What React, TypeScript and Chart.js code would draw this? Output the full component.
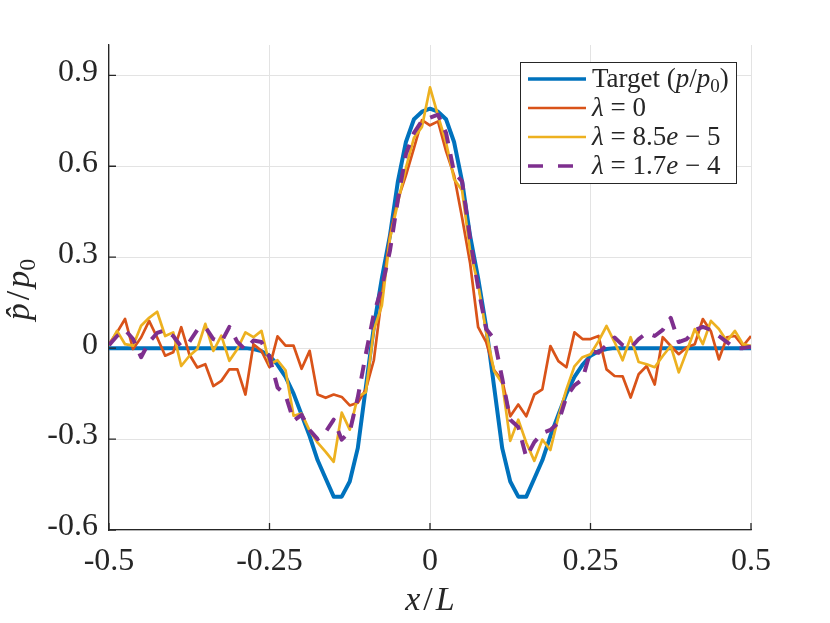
import { useEffect, useRef } from "react";
import { Chart, registerables } from "chart.js";

Chart.register(...registerables);

// sample positions x/L
const xs = [
  -0.5, -0.4875, -0.475, -0.4625, -0.45, -0.4375, -0.425, -0.4125, -0.4, -0.3875,
  -0.375, -0.3625, -0.35, -0.3375, -0.325, -0.3125, -0.3, -0.2875, -0.275, -0.2625,
  -0.25, -0.2375, -0.225, -0.2125, -0.2, -0.1875, -0.175, -0.1625, -0.15, -0.1375,
  -0.125, -0.1125, -0.1, -0.0875, -0.075, -0.0625, -0.05, -0.0375, -0.025, -0.0125,
  0,
  0.0125, 0.025, 0.0375, 0.05, 0.0625, 0.075, 0.0875, 0.1, 0.1125, 0.125,
  0.1375, 0.15, 0.1625, 0.175, 0.1875, 0.2, 0.2125, 0.225, 0.2375, 0.25,
  0.2625, 0.275, 0.2875, 0.3, 0.3125, 0.325, 0.3375, 0.35, 0.3625, 0.375,
  0.3875, 0.4, 0.4125, 0.425, 0.4375, 0.45, 0.4625, 0.475, 0.4875, 0.5,
];

const target = [
  0, 0, 0, 0, 0, 0, 0, 0, 0, 0, 0, 0, 0, 0, 0, 0, 0, 0,
  -0.003, -0.01, -0.025, -0.055, -0.095, -0.15, -0.22, -0.29, -0.37, -0.43,
  -0.49, -0.49, -0.44, -0.33, -0.13, 0.07, 0.23, 0.37, 0.55, 0.68, 0.755, 0.78,
  0.79,
  0.78, 0.755, 0.68, 0.55, 0.37, 0.23, 0.07, -0.13, -0.33, -0.44, -0.49, -0.49,
  -0.43, -0.37, -0.29, -0.22, -0.15, -0.095, -0.055, -0.025, -0.01, -0.003,
  0, 0, 0, 0, 0, 0, 0, 0, 0, 0, 0, 0, 0, 0, 0, 0, 0, 0,
];

const lambda0 = [
  0.013, 0.052, 0.096, -0.003, 0.035, 0.09, 0.035, -0.025, -0.014, 0.069,
  -0.02, -0.064, -0.053, -0.125, -0.108, -0.07, -0.07, -0.153, 0.013, -0.009,
  -0.063, 0.039, 0.008, 0.008, -0.068, -0.009, -0.153, -0.164, -0.153, -0.161,
  -0.189, -0.18, -0.136, -0.04, 0.17, 0.37, 0.49, 0.57, 0.66, 0.752,
  0.735,
  0.748, 0.65, 0.57, 0.43, 0.28, 0.069, 0.02, -0.073, -0.106, -0.225,
  -0.186, -0.225, -0.153, -0.136, 0.007, -0.043, -0.063, 0.052, 0.03, 0.03,
  0.04, -0.07, -0.092, -0.093, -0.163, -0.086, -0.059, -0.12, 0.036, 0.007,
  -0.02, 0.003, 0.013, 0.096, 0.056, -0.037, 0.036, 0.04, 0.007, 0.04,
];

const lambda85 = [
  0.008, 0.057, 0.013, 0.008, 0.074, 0.1, 0.12, 0.04, 0.052, -0.059,
  -0.026, -0.003, 0.08, -0.009, 0.041, -0.042, -0.003, 0.052, 0.036, 0.057,
  -0.053, -0.04, -0.073, -0.223, -0.216, -0.272, -0.312, -0.342, -0.375, -0.213,
  -0.269, -0.16, -0.146, 0.06, 0.14, 0.36, 0.48, 0.595, 0.694, 0.73,
  0.86,
  0.767, 0.678, 0.558, 0.52, 0.32, 0.21, 0.053, -0.076, -0.116, -0.306,
  -0.236, -0.312, -0.372, -0.302, -0.336, -0.226, -0.136, -0.06, -0.03, -0.02,
  0.023, 0.073, 0.02, -0.04, 0.036, -0.046, -0.053, -0.063, -0.026, 0.007,
  -0.08, -0.01, 0.063, 0.013, 0.09, 0.063, 0.023, 0.057, 0.013, 0.007,
];

const lambda17 = [
  0.01, 0.04, 0.06, 0.03, -0.03, 0.02, 0.05, 0.06, 0.04, 0.005,
  0.02, 0.06, 0.07, 0.03, 0.02, 0.07, 0.02, -0.005, 0.025, 0.02,
  -0.03, -0.13, -0.155, -0.24, -0.22, -0.27, -0.3, -0.276, -0.236, -0.302,
  -0.276, -0.163, -0.02, 0.113, 0.2, 0.32, 0.49, 0.64, 0.71, 0.75,
  0.76,
  0.77, 0.71, 0.58, 0.55, 0.36, 0.2, 0.063, 0.03, -0.1, -0.236,
  -0.26, -0.36, -0.31, -0.28, -0.27, -0.246, -0.16, -0.123, -0.103, -0.01,
  -0.015, 0.01, 0.035, 0.01, 0, 0.03, 0.05, 0.04, 0.06, 0.1,
  0.02, 0.03, 0.06, 0.07, 0.06, 0.04, 0.02, 0, 0, 0.005,
];

const xTicks = [-0.5, -0.25, 0, 0.25, 0.5];
const yTicks = [-0.6, -0.3, 0, 0.3, 0.6, 0.9];

const seriesLabels = ["Target (p/p0)", "λ = 0", "λ = 8.5e − 5", "λ = 1.7e − 4"];
const colors = ["#0072BD", "#D95319", "#EDB120", "#7E2F8E"];
const widths = [4, 2.7, 2.7, 4];
const dashes = [[], [], [], [14, 11]];

const FAMILY = "'Liberation Serif', serif";
const INK = "#262626";

type Seg = { t: string; it?: boolean; sub?: boolean; gap?: number };

// rich legend / axis label texts (math italic parts)
const legendText: Seg[][] = [
  [{ t: "Target (" }, { t: "p", it: true }, { t: "/" }, { t: "p", it: true }, { t: "0", sub: true }, { t: ")" }],
  [{ t: "λ", it: true }, { t: " = 0" }],
  [{ t: "λ", it: true }, { t: " = 8.5" }, { t: "e", it: true }, { t: " − 5" }],
  [{ t: "λ", it: true }, { t: " = 1.7" }, { t: "e", it: true }, { t: " − 4" }],
];
const xTitle: Seg[] = [{ t: "x", it: true }, { t: "/", gap: 3 }, { t: "L", it: true }];
const yTitle: Seg[] = [{ t: "p\u0302", it: true }, { t: "/", gap: 3 }, { t: "p", it: true }, { t: "0", sub: true }];

const drawRich = (
  ctx: CanvasRenderingContext2D,
  segs: Seg[],
  x: number,
  y: number,
  size: number,
  center: boolean
) => {
  const font = (s: Seg) =>
    `${s.it ? "italic " : ""}${s.sub ? Math.round(size * 0.7) : size}px ${FAMILY}`;
  const segW = (s: Seg) => {
    ctx.font = font(s);
    return ctx.measureText(s.t).width + 2 * (s.gap || 0);
  };
  const total = segs.reduce((a, s) => a + segW(s), 0);
  let cx = center ? x - total / 2 : x;
  ctx.textAlign = "left";
  ctx.textBaseline = "alphabetic";
  segs.forEach((s) => {
    const w = segW(s);
    ctx.font = font(s);
    ctx.fillText(s.t, cx + (s.gap || 0), s.sub ? y + size * 0.18 : y);
    cx += w;
  });
};

const decorPlugin = {
  id: "decor",
  afterDatasetsDraw(chart: any) {
    const { ctx, chartArea, scales } = chart;
    const { left, right, top, bottom } = chartArea;
    ctx.save();
    // inward tick marks
    ctx.strokeStyle = INK;
    ctx.lineWidth = 1.3;
    ctx.beginPath();
    xTicks.forEach((v) => {
      const px = scales.x.getPixelForValue(v);
      ctx.moveTo(px, bottom);
      ctx.lineTo(px, bottom - 7);
    });
    yTicks.forEach((v) => {
      const py = scales.y.getPixelForValue(v);
      ctx.moveTo(left, py);
      ctx.lineTo(left + 7, py);
    });
    ctx.stroke();

    // legend
    const bw = 216;
    const bh = 121;
    const bx = right - 15 - bw;
    const by = top + 17;
    ctx.fillStyle = "#ffffff";
    ctx.fillRect(bx, by, bw, bh);
    ctx.strokeStyle = INK;
    ctx.lineWidth = 1;
    ctx.strokeRect(bx + 0.5, by + 0.5, bw, bh);
    legendText.forEach((segs, i) => {
      const ry = by + 17 + i * 29;
      ctx.strokeStyle = colors[i];
      ctx.lineWidth = widths[i] === 4 ? 3.5 : 2.5;
      ctx.setLineDash(i === 3 ? [15, 15] : []);
      ctx.beginPath();
      ctx.moveTo(bx + 8, ry);
      ctx.lineTo(bx + 66, ry);
      ctx.stroke();
      ctx.setLineDash([]);
      ctx.fillStyle = INK;
      drawRich(ctx, segs, bx + 72, ry + 8, 27, false);
    });

    // axis titles
    ctx.fillStyle = INK;
    drawRich(ctx, xTitle, (left + right) / 2, 610, 34, true);
    ctx.translate(29, (top + bottom) / 2 + 2);
    ctx.rotate(-Math.PI / 2);
    drawRich(ctx, yTitle, 0, 0, 34, true);
    ctx.restore();
  },
};

const fmt = (v: number) => (Math.abs(v) < 1e-9 ? "0" : String(v));

const App = () => {
  const canvasRef = useRef<HTMLCanvasElement | null>(null);

  useEffect(() => {
    document.body.style.margin = "0";
    const series = [target, lambda0, lambda85, lambda17];
    const chart = new Chart(canvasRef.current!, {
      type: "line",
      data: {
        datasets: series.map((ys, i) => ({
          label: seriesLabels[i],
          data: xs.map((x, j) => ({ x, y: ys[j] })),
          borderColor: colors[i],
          backgroundColor: colors[i],
          borderWidth: widths[i],
          borderDash: dashes[i],
          borderJoinStyle: "round" as const,
          pointRadius: 0,
          tension: 0,
          order: 4 - i,
        })),
      },
      options: {
        animation: false,
        responsive: true,
        maintainAspectRatio: false,
        layout: { padding: { top: 45, right: 79, left: 0, bottom: 0 } },
        plugins: { legend: { display: false }, tooltip: { enabled: false } },
        scales: {
          x: {
            type: "linear",
            min: -0.5,
            max: 0.5,
            afterBuildTicks: (s: any) => {
              s.ticks = xTicks.map((value) => ({ value }));
            },
            afterFit: (s: any) => {
              s.height = 93;
            },
            grid: { color: "#e3e3e3", lineWidth: 1, drawTicks: false },
            border: { display: true, color: INK, width: 1.3 },
            ticks: {
              padding: 12,
              color: INK,
              autoSkip: false,
              maxRotation: 0,
              font: { family: FAMILY, size: 32 },
              callback: (v: any) => fmt(Number(v)),
            },
          },
          y: {
            type: "linear",
            min: -0.6,
            max: 1.0,
            afterBuildTicks: (s: any) => {
              s.ticks = yTicks.map((value) => ({ value }));
            },
            afterFit: (s: any) => {
              s.width = 109;
            },
            grid: { color: "#e3e3e3", lineWidth: 1, drawTicks: false },
            border: { display: true, color: INK, width: 1.3 },
            ticks: {
              padding: 11,
              labelOffset: -3,
              color: INK,
              autoSkip: false,
              font: { family: FAMILY, size: 32 },
              callback: (v: any) => fmt(Number(v)),
            },
          },
        },
      },
      plugins: [decorPlugin],
    });
    return () => chart.destroy();
  }, []);

  return (
    <div style={{ width: "830px", height: "623px" }}>
      <canvas ref={canvasRef} />
    </div>
  );
};

export default App;
